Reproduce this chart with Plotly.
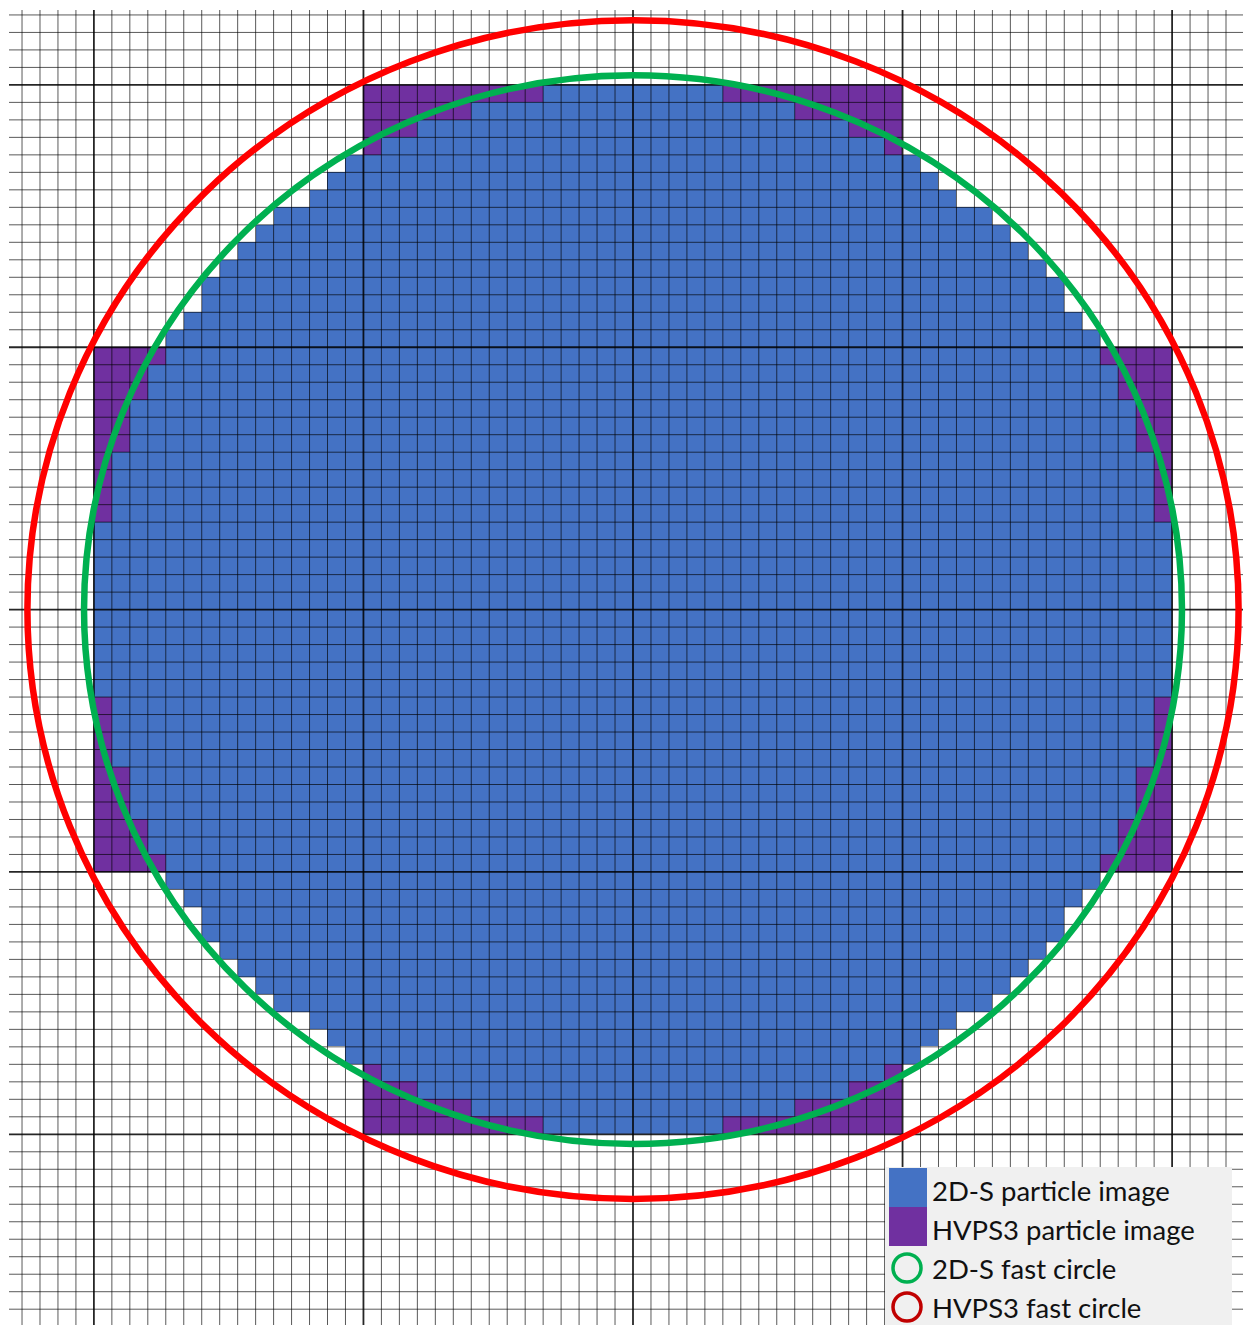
import plotly.graph_objects as go

# ---------------- data ----------------
# 2D-S image: 60 x 60 fine pixels (10 um each). For each row (top -> bottom),
# first and last shaded column index.
row_first_blue = [25, 21, 18, 16, 14, 13, 12, 10, 9, 8, 7, 6, 6, 5, 4,
                  4, 3, 3, 2, 2, 2, 1, 1, 1, 1, 0, 0, 0, 0, 0,
                  0, 0, 0, 0, 0, 1, 1, 1, 1, 2, 2, 2, 3, 3, 4,
                  4, 5, 6, 6, 7, 8, 9, 10, 12, 13, 14, 16, 18, 21, 25]
row_last_blue = [34, 38, 41, 43, 45, 46, 47, 49, 50, 51, 52, 53, 53, 54, 55,
                 55, 56, 56, 57, 57, 57, 58, 58, 58, 58, 59, 59, 59, 59, 59,
                 59, 59, 59, 59, 59, 58, 58, 58, 58, 57, 57, 57, 56, 56, 55,
                 55, 54, 53, 53, 52, 51, 50, 49, 47, 46, 45, 43, 41, 38, 34]
# HVPS3 image: 4 x 4 coarse pixels (150 um = 15 fine pixels), top -> bottom
hvps_mask = [[0, 1, 1, 0],
             [1, 1, 1, 1],
             [1, 1, 1, 1],
             [0, 1, 1, 0]]
n_fine = 60
coarse_factor = 15
# fast-circle radii in fine-pixel units
r_2ds_circle = 30.55
r_hvps_circle = 33.7

legend_labels = ["2D-S particle image", "HVPS3 particle image",
                 "2D-S fast circle", "HVPS3 fast circle"]

# ---------------- styles ----------------
BLUE = "#4472c4"
PURPLE = "#7030a0"
GREEN = "#00b050"
RED = "#ff0000"
DARKRED = "#c00000"

# page body has an 8 px margin: the figure starts at (8, 8) in the window
OFF = 8
W, H = 1251 - OFF, 1325 - OFF
SX, SY = 17.97, 17.49          # px per fine pixel
CX, CY = 633.0, 609.6          # particle centre in window px
x_range = [(OFF - CX) / SX, (1251 - CX) / SX]
y_range = [(CY - 1325) / SY, (CY - OFF) / SY]

# ---------------- build z grid ----------------
half = n_fine / 2
xs = [c - half + 0.5 for c in range(n_fine)]
ys = [half - r - 0.5 for r in range(n_fine)]
z = []
for r in range(n_fine):
    row = []
    for c in range(n_fine):
        if row_first_blue[r] <= c <= row_last_blue[r]:
            row.append(2)
        elif hvps_mask[r // coarse_factor][c // coarse_factor]:
            row.append(1)
        else:
            row.append(None)
    z.append(row)

fig = go.Figure()
fig.add_trace(go.Heatmap(
    x=xs, y=ys, z=z, zmin=1, zmax=2,
    colorscale=[[0, PURPLE], [0.5, PURPLE], [0.5, BLUE], [1, BLUE]],
    showscale=False, hoverinfo="skip", zsmooth=False))

# ---------------- grid lines ----------------
grid_top = (CY - 10) / SY
grid_left = (9 - CX) / SX
fx, fy, cx, cy = [], [], [], []
for k in range(-34, 35):
    tx, ty = (cx, cy) if k % coarse_factor == 0 else (fx, fy)
    tx += [k, k, None]
    ty += [grid_top, y_range[0] - 1, None]
for k in range(-41, 35):
    tx, ty = (cx, cy) if k % coarse_factor == 0 else (fx, fy)
    tx += [grid_left, x_range[1] + 1, None]
    ty += [k, k, None]
fig.add_trace(go.Scatter(x=fx, y=fy, mode="lines", hoverinfo="skip",
                         line=dict(color="rgba(0,0,0,0.65)", width=1),
                         showlegend=False))
fig.add_trace(go.Scatter(x=cx, y=cy, mode="lines", hoverinfo="skip",
                         line=dict(color="rgba(0,0,0,0.85)", width=1.8),
                         showlegend=False))

# ---------------- fast circles ----------------
for rad, col in [(r_hvps_circle, RED), (r_2ds_circle, GREEN)]:
    fig.add_shape(type="circle", xref="x", yref="y",
                  x0=-rad, x1=rad, y0=-rad, y1=rad,
                  line=dict(color=col, width=6.5), layer="above")

# ---------------- legend (drawn) ----------------
def px(x):
    return (x - OFF) / W

def py(y):
    return 1 - (y - OFF) / H

fig.add_shape(type="rect", xref="paper", yref="paper",
              x0=px(885), x1=px(1232), y0=py(1167), y1=py(1330),
              fillcolor="#f0f0f0", line=dict(width=0), layer="above")
fig.add_shape(type="rect", xref="paper", yref="paper",
              x0=px(889), x1=px(927), y0=py(1168), y1=py(1207),
              fillcolor=BLUE, line=dict(width=0), layer="above")
fig.add_shape(type="rect", xref="paper", yref="paper",
              x0=px(889), x1=px(927), y0=py(1207), y1=py(1246),
              fillcolor=PURPLE, line=dict(width=0), layer="above")
for cyy, col in [(1268, GREEN), (1307, DARKRED)]:
    fig.add_shape(type="circle", xref="paper", yref="paper",
                  x0=px(893), x1=px(921), y0=py(cyy - 14), y1=py(cyy + 14),
                  line=dict(color=col, width=3.5), layer="above")
for lab, cyy in zip(legend_labels, [1190, 1229, 1268, 1307]):
    fig.add_annotation(text=lab, xref="paper", yref="paper",
                       x=px(930), y=py(cyy), xanchor="left", yanchor="middle",
                       showarrow=False,
                       font=dict(family="Lato", size=27.5, color="#111111"))

fig.update_xaxes(range=x_range, visible=False, fixedrange=True)
fig.update_yaxes(range=y_range, visible=False, fixedrange=True)
fig.update_layout(width=W, height=H, margin=dict(l=0, r=0, t=0, b=0),
                  plot_bgcolor="white", paper_bgcolor="white",
                  showlegend=False, hovermode=False)

fig.write_html("out.html", config={"displayModeBar": False})
